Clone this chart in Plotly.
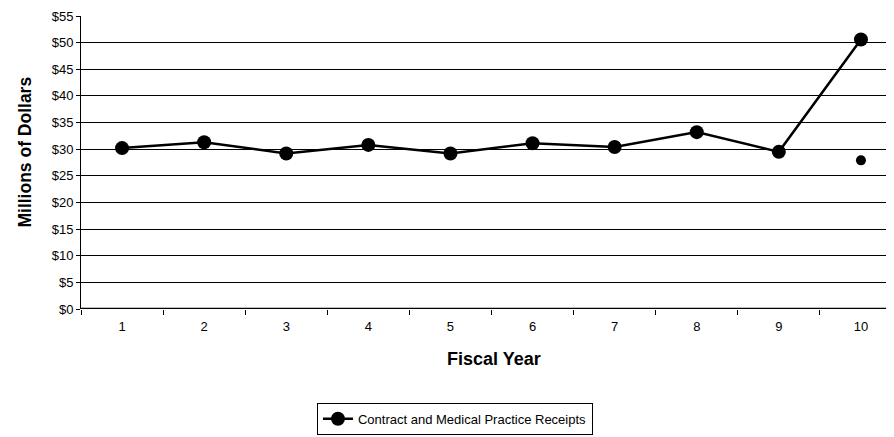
import plotly.graph_objects as go

years = [1, 2, 3, 4, 5, 6, 7, 8, 9, 10]
receipts = [30.2, 31.3, 29.2, 30.8, 29.2, 31.1, 30.4, 33.2, 29.5, 50.6]
extra_year = [10]
extra_value = [27.9]
y_ticks = list(range(0, 56, 5))
y_labels = ["$%d" % v for v in y_ticks]

narrow = "Liberation Sans Narrow, Arial Narrow, Liberation Sans, Arial, sans-serif"
bold = "Liberation Sans, Arial, sans-serif"

fig = go.Figure()
fig.add_trace(go.Scatter(
    x=years, y=receipts, mode="lines+markers",
    name="Contract and Medical Practice Receipts",
    line=dict(color="black", width=2.5),
    marker=dict(color="black", size=14, symbol="circle"),
))
fig.add_trace(go.Scatter(
    x=extra_year, y=extra_value, mode="markers", showlegend=False,
    marker=dict(color="black", size=10, symbol="circle"),
))

fig.update_layout(
    width=894, height=437,
    margin=dict(l=73, r=0, t=8, b=136, autoexpand=False),
    paper_bgcolor="white", plot_bgcolor="white",
    font=dict(family=narrow, size=13, color="black"),
    showlegend=True,
    legend=dict(
        orientation="h", x=0.4555, xanchor="center", y=-0.32, yanchor="top",
        bordercolor="black", borderwidth=1, bgcolor="white",
        font=dict(family=narrow, size=13),
    ),
    xaxis=dict(
        range=[0.5, 10.5], automargin=False,
        tickmode="array", tickvals=years, ticktext=[str(v) for v in years],
        ticks="", showgrid=False, zeroline=False,
        showline=False, ticklabelstandoff=8, ticklabeloverflow="allow",
        minor=dict(ticks="outside", ticklen=5, tickcolor="black", tick0=0.5, dtick=1, showgrid=False),
        tickfont=dict(family=narrow, size=13),
    ),
    yaxis=dict(
        range=[0, 55], automargin=False, ticklabeloverflow="allow",
        tickmode="array", tickvals=y_ticks, ticktext=y_labels,
        ticks="outside", ticklen=4, tickcolor="black",
        showgrid=True, gridcolor="black", gridwidth=1,
        zeroline=False, showline=True, linecolor="black", linewidth=1,
        tickfont=dict(family=narrow, size=13),
    ),
    annotations=[
        dict(text="<b>Fiscal Year</b>", xref="paper", yref="paper",
             x=0.503, y=-0.171, xanchor="center", yanchor="middle",
             showarrow=False, font=dict(family=bold, size=18)),
        dict(text="<b>Millions of Dollars</b>", xref="paper", yref="paper",
             x=-0.0682, y=0.534, xanchor="center", yanchor="middle",
             textangle=-90, showarrow=False, font=dict(family=bold, size=17.5)),
    ],
)
fig.add_shape(type="line", xref="paper", yref="y", x0=0, x1=1, y0=0, y1=0,
              line=dict(color="black", width=2.5))

fig.write_html("out.html")
